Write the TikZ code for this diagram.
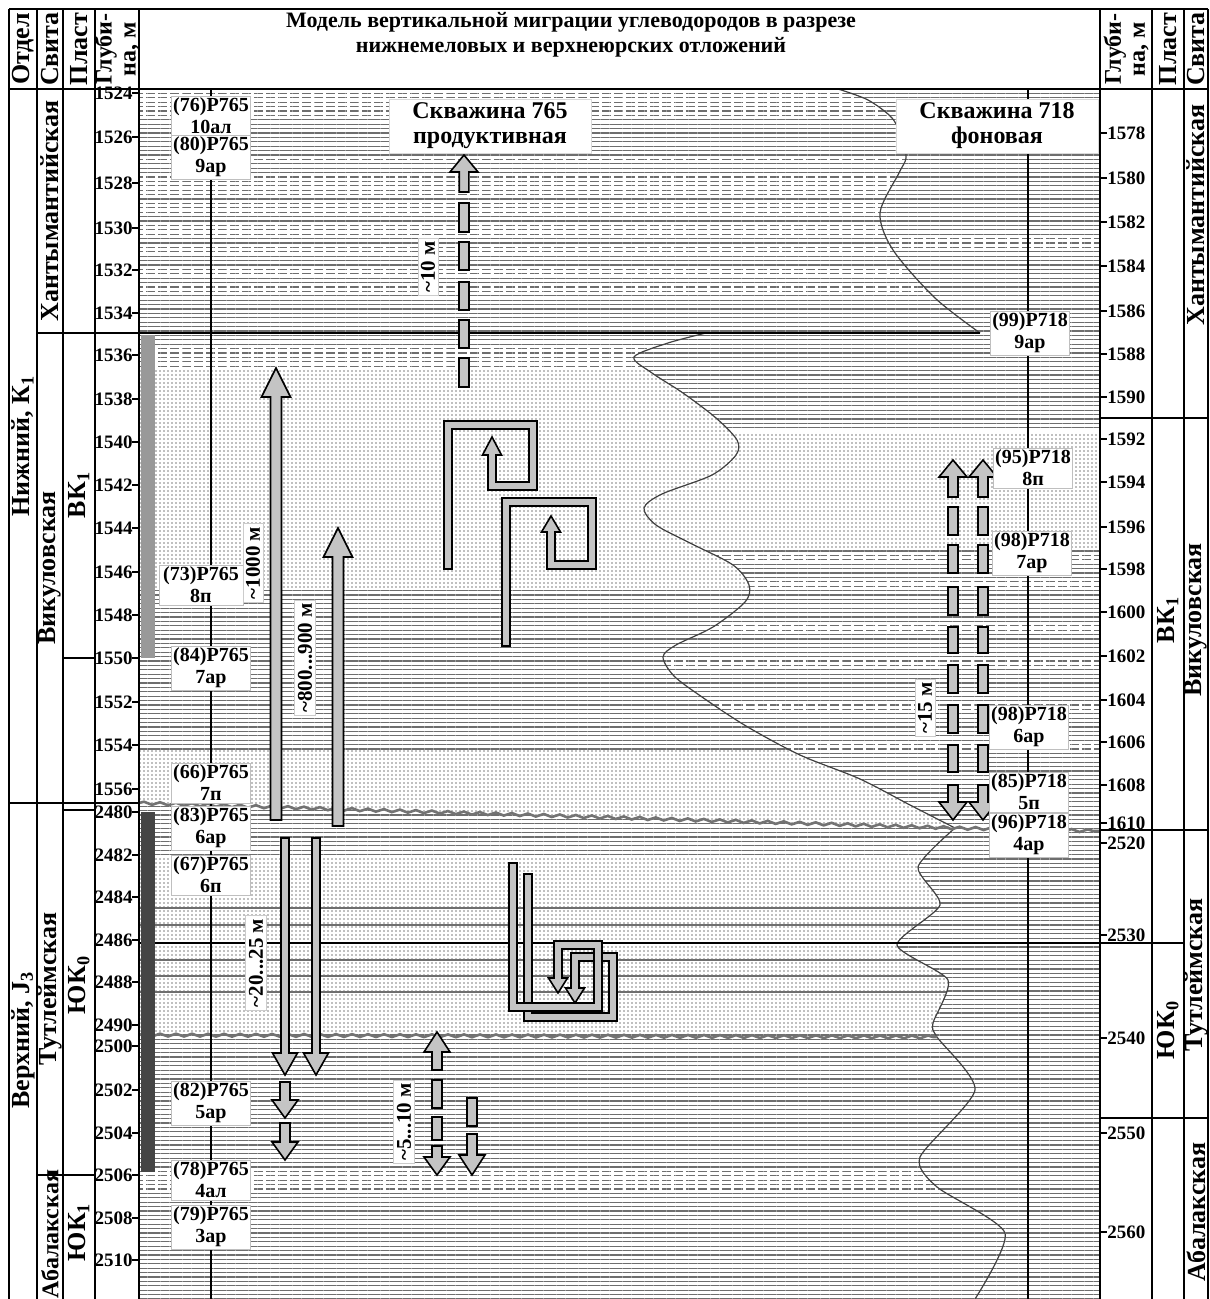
\documentclass[tikz,border=0pt]{standalone}
\usepackage{fontspec}
\setmainfont{Liberation Serif}
\usetikzlibrary{patterns.meta,decorations.pathmorphing}
\definecolor{arrgray}{HTML}{C4C4C4}
\definecolor{lingray}{HTML}{6E6E6E}
\newcommand{\myUpArr}[6]{%
  \filldraw[arrowsty] ({#1-#4},{#2}) -- ({#1-#4},{#3+#6}) -- ({#1-#5},{#3+#6}) -- ({#1},{#3}) -- ({#1+#5},{#3+#6}) -- ({#1+#4},{#3+#6}) -- ({#1+#4},{#2}) -- cycle;}
\newcommand{\myDnArr}[6]{%
  \filldraw[arrowsty] ({#1-#4},{#2}) -- ({#1-#4},{#3-#6}) -- ({#1-#5},{#3-#6}) -- ({#1},{#3}) -- ({#1+#5},{#3-#6}) -- ({#1+#4},{#3-#6}) -- ({#1+#4},{#2}) -- cycle;}
\newcommand{\myDash}[4]{%
  \filldraw[arrowsty] ({#1-#4},{#2}) rectangle ({#1+#4},{#3});}
\newcommand{\myPipe}[1]{%
  \draw[line width=5pt,line cap=rect,line join=miter,black] #1;
  \draw[line width=3.4pt,line cap=rect,line join=miter,arrgray] #1;}
\newcommand{\myHeadUp}[3]{%
  \filldraw[arrowsty] ({#1-3.2},{#2}) -- ({#1-9.5},{#2}) -- ({#1},{#3}) -- ({#1+9.5},{#2}) -- ({#1+3.2},{#2});}
\newcommand{\myHeadDn}[3]{%
  \filldraw[arrowsty] ({#1-3.2},{#2}) -- ({#1-9.5},{#2}) -- ({#1},{#3}) -- ({#1+9.5},{#2}) -- ({#1+3.2},{#2});}
\begin{document}
\begin{tikzpicture}[x=0.5pt,y=-0.5pt,
  litlin/.style={pattern={Lines[angle=0,distance=2.2pt,line width=0.65pt]},pattern color=lingray},
  litdot/.style={pattern={Dots[distance=2pt,radius=0.4pt]},pattern color=black!50},
  litdsh/.style={pattern={Lines[angle=90,distance=6pt,line width=1.5pt]},pattern color=white},
  arrowsty/.style={fill=arrgray,draw=black,line width=0.8pt,line join=miter},
  curvesty/.style={draw=black!75,line width=0.6pt},
  wavy/.style={draw=black!55,line width=1.3pt,decorate,decoration={snake,amplitude=0.7pt,segment length=8pt}},
  frame/.style={line width=0.9pt},
  lbl/.style={font=\bfseries\fontsize{10}{11}\selectfont,fill=white,draw=black!25,line width=0.4pt,align=center,inner sep=1pt,minimum width=39pt},
  dep/.style={font=\bfseries\fontsize{9.5}{10}\selectfont,inner sep=0pt},
  colt/.style={font=\bfseries\fontsize{13}{13}\selectfont,rotate=90,inner sep=0pt,align=center},
  rotl/.style={font=\bfseries\fontsize{10.5}{11}\selectfont,rotate=90,fill=white,draw=black!20,line width=0.4pt,inner sep=1.5pt},
  wellt/.style={font=\bfseries\fontsize{12}{12.5}\selectfont,fill=white,draw=black!15,align=center,inner sep=2pt,minimum width=101pt,minimum height=26pt}
]
\useasboundingbox (0,0) rectangle (1209,1299);
\fill[white] (0,0) rectangle (1209,1299);

% ---------- lithology base ----------
\fill[litlin] (139,89) rectangle (1100,1299);
% top zone, well 718
\fill[litdsh] (139,239) rectangle (1100,251);
% top zone, well 765
\begin{scope}
\clip (139,89) -- plot[smooth] coordinates {(838,89) (868,100) (892,118) (903,140) (906,158) (899,173) (880,213) (893,250) (935,298) (980,333)} -- (139,333) -- cycle;
\fill[white] (139,89) rectangle (1000,333);
\fill[litlin] (139,89) rectangle (1000,333);
\foreach \a/\b in {91/117,157/162,176/196,204/214,226/236,247/256,268/278,284/292}
  \fill[litdsh] (139,\a) rectangle (1000,\b);
\end{scope}
% Vikulov zone, well 718
\fill[white] (139,432) rectangle (1100,550);
\fill[litdot] (139,432) rectangle (1100,550);
\foreach \a/\b in {552/562,580/588,625/632,659/665,702/709,744/751}
  \fill[litdsh] (139,\a) rectangle (1100,\b);
% Vikulov zone, well 765
\begin{scope}
\clip (139,333) -- plot[smooth] coordinates {(706,333) (668,343) (634,357) (652,373) (683,393) (716,418) (737,440) (736,455) (712,475) (662,494) (644,508) (656,525) (690,543) (733,565) (749,585) (745,602) (713,627) (676,645) (663,657) (674,676) (702,697) (746,726) (800,755) (860,779) (910,805) (955,828)} -- (139,803) -- cycle;
\fill[white] (139,333) rectangle (1000,840);
\fill[litlin] (139,333) rectangle (1000,840);
\fill[litdsh] (139,347) rectangle (1000,368);
\fill[white] (139,370) rectangle (1000,587);
\fill[litdot] (139,370) rectangle (1000,587);
\fill[white] (139,750) rectangle (1000,840);
\fill[litdot] (139,750) rectangle (1000,840);
\end{scope}
% lower zone, well 765
\begin{scope}
\clip (139,803) -- plot[smooth,tension=0.4] coordinates {(955,828) (918,867) (940,905) (897,945) (948,980) (933,1023) (937,1037) (975,1090) (920,1157) (937,1187) (1005,1233) (975,1299)} -- (139,1299) -- cycle;
\fill[white] (139,803) rectangle (1050,1299);
\fill[litlin] (139,803) rectangle (1050,1299);
\fill[white] (139,857) rectangle (1050,1033);
\fill[litdot] (139,857) rectangle (1050,1033);
\foreach \yy in {908,925,960,976,992}
  \draw[lingray,line width=0.6pt] (139,\yy) -- (1050,\yy);
\fill[litdsh] (139,1170) rectangle (1050,1190);
\end{scope}

% ---------- correlation curves and boundaries ----------
\draw[curvesty] plot[smooth] coordinates {(838,89) (868,100) (892,118) (903,140) (906,158) (899,173) (880,213) (893,250) (935,298) (980,333)};
\draw[curvesty] plot[smooth] coordinates {(706,333) (668,343) (634,357) (652,373) (683,393) (716,418) (737,440) (736,455) (712,475) (662,494) (644,508) (656,525) (690,543) (733,565) (749,585) (745,602) (713,627) (676,645) (663,657) (674,676) (702,697) (746,726) (800,755) (860,779) (910,805) (955,828)};
\draw[curvesty] plot[smooth,tension=0.4] coordinates {(955,828) (918,867) (940,905) (897,945) (948,980) (933,1023) (937,1037) (975,1090) (920,1157) (937,1187) (1005,1233) (975,1299)};
\draw[line width=0.9pt] (139,333) -- (980,333);
\draw[line width=0.9pt] (139,943) -- (1100,943);
\draw[wavy] (139,803) -- (955,828) -- (1100,831);
\draw[wavy] (139,1035) -- (937,1037);

% wells
\draw[line width=0.8pt] (211,89) -- (211,1299);
\draw[line width=0.8pt] (1028,89) -- (1028,1299);

% ---------- migration arrows ----------
\myUpArr{276}{820}{368}{5.5}{14.5}{29}
\myUpArr{338}{826}{528}{5.5}{14.5}{29}
\myDnArr{285}{838}{1075}{4}{12.5}{22}
\myDnArr{316}{838}{1075}{4}{12.5}{22}
\myDnArr{285}{1082}{1118}{5}{13}{18}
\myDnArr{285}{1123}{1160}{5}{13}{18}
% dashed arrow, top
\myUpArr{464}{192}{155}{4.8}{14}{17}
\foreach \a/\b in {203/232,242/270,282/310,320/348,358/387} {\myDash{464}{\a}{\b}{4.8}}
% dashed arrows, bottom
\myUpArr{437}{1070}{1032}{5}{13}{20}
\foreach \a/\b in {1080/1108,1117/1140} {\myDash{437}{\a}{\b}{5}}
\myDnArr{437}{1146}{1175}{5}{13}{18}
\myDash{472}{1098}{1126}{5}
\myDnArr{472}{1134}{1175}{5}{13}{20}
% dashed arrows, right
\foreach \xx in {953,983}{
  \myUpArr{\xx}{497}{460}{5}{14}{17}
  \foreach \a/\b in {507/535,545/573,587/615,627/653,665/693,705/733,745/772} {\myDash{\xx}{\a}{\b}{5}}
  \myDnArr{\xx}{785}{820}{5}{14}{18}
}
% spirals
\myPipe{(448,565) -- (448,425) -- (533,425) -- (533,486) -- (492,486) -- (492,455)}
\myHeadUp{492}{455}{437}
\myPipe{(506,642) -- (506,502) -- (592,502) -- (592,565) -- (551,565) -- (551,532)}
\myHeadUp{551}{532}{516}
\myPipe{(528,878) -- (528,1017) -- (613,1017) -- (613,957) -- (575,957) -- (575,988)}
\myHeadDn{575}{988}{1003}
\myPipe{(513,867) -- (513,1007) -- (598,1007) -- (598,945) -- (558,945) -- (558,978)}
\myHeadDn{558}{978}{993}

% ---------- sample boxes ----------
\node[lbl] (b76) at (211,116) {(76)Р765\\10ал};
\node[lbl] (b80) at (211,157) {(80)Р765\\9ар};
\node[lbl,minimum width=42pt] (b73) at (201,585) {(73)Р765\\8п};
\node[lbl] (b84) at (211,668) {(84)Р765\\7ар};
\node[lbl] (b66) at (211,783) {(66)Р765\\7п};
\node[lbl] (b83) at (211,828) {(83)Р765\\6ар};
\node[lbl] (b67) at (211,875) {(67)Р765\\6п};
\node[lbl] (b82) at (211,1103) {(82)Р765\\5ар};
\node[lbl] (b78) at (211,1180) {(78)Р765\\4ал};
\node[lbl] (b79) at (211,1227) {(79)Р765\\3ар};
\node[lbl] (c99) at (1030,333) {(99)Р718\\9ар};
\node[lbl] (c95) at (1033,468) {(95)Р718\\8п};
\node[lbl] (c98a) at (1032,553) {(98)Р718\\7ар};
\node[lbl] (c98b) at (1029,727) {(98)Р718\\6ар};
\node[lbl] (c85) at (1029,792) {(85)Р718\\5п};
\node[lbl] (c96) at (1029,835) {(96)Р718\\4ар};
\node[wellt] (w765) at (490,126) {Скважина 765\\продуктивная};
\node[wellt] (w718) at (997,126) {Скважина 718\\фоновая};

% distance labels
\node[rotl] (m10) at (428,267) {\textasciitilde10 м};
\node[rotl] (m1000) at (253,563) {\textasciitilde1000 м};
\node[rotl] (m800) at (305,658) {\textasciitilde800...900 м};
\node[rotl] (m20) at (256,963) {\textasciitilde20...25 м};
\node[rotl] (m5) at (404,1122) {\textasciitilde5...10 м};
\node[rotl] (m15) at (925,708) {\textasciitilde15 м};

% ---------- frame and columns ----------
\fill[white] (0,0) rectangle (1209,88);
\fill[white] (0,88) rectangle (138,1299);
\fill[white] (1101,88) rectangle (1209,1299);
\fill[black!40] (141,335) rectangle (155,658);
\fill[black!73] (141,812) rectangle (155,1172);
\draw[frame] (9,9) -- (1208,9);
\draw[frame] (9,89) -- (1208,89);
\foreach \xx in {9,37,63,95,139,1100,1152,1184,1208}
  \draw[frame] (\xx,9) -- (\xx,1299);
\draw[frame] (37,333) -- (139,333);
\draw[frame] (9,803) -- (139,803);
\draw[frame] (63,810) -- (95,810);
\draw[frame] (63,658) -- (95,658);
\draw[frame] (37,1175) -- (95,1175);
\draw[frame] (1100,418) -- (1208,418);
\draw[frame] (1100,830) -- (1208,830);
\draw[frame] (1100,943) -- (1184,943);
\draw[frame] (1100,1118) -- (1208,1118);

% title
\node[font=\bfseries\fontsize{11}{12.5}\selectfont,align=center] (title) at (571,35) {Модель вертикальной миграции углеводородов в разрезе\\нижнемеловых и верхнеюрских отложений};

% headers
\node[colt] (h1) at (23,49) {Отдел};
\node[colt] (h2) at (50,49) {Свита};
\node[colt] (h3) at (79,49) {Пласт};
\node[colt,font=\bfseries\fontsize{12}{12}\selectfont] (h4) at (117,49) {Глуби-\\на, м};
\node[colt,font=\bfseries\fontsize{12}{12}\selectfont] (h5) at (1126,49) {Глуби-\\на, м};
\node[colt] (h6) at (1168,49) {Пласт};
\node[colt] (h7) at (1196,49) {Свита};

% column texts
\node[colt] (o1) at (23,446) {Нижний, К\textsubscript{1}};
\node[colt] (o2) at (23,1040) {Верхний, J\textsubscript{3}};
\node[colt] (s1) at (50,211) {Хантымантийская};
\node[colt] (s2) at (50,568) {Викуловская};
\node[colt] (s3) at (50,989) {Тутлеймская};
\node[colt,font=\bfseries\fontsize{12}{12}\selectfont] (s4) at (50,1234) {Абалакская};
\node[colt] (p1) at (79,495) {ВК\textsubscript{1}};
\node[colt] (p2) at (79,985) {ЮК\textsubscript{0}};
\node[colt] (p3) at (79,1232) {ЮК\textsubscript{1}};
\node[colt] (s5) at (1196,215) {Хантымантийская};
\node[colt] (s6) at (1196,620) {Викуловская};
\node[colt] (s7) at (1196,975) {Тутлеймская};
\node[colt] (s8) at (1196,1212) {Абалакская};
\node[colt] (p4) at (1168,620) {ВК\textsubscript{1}};
\node[colt] (p5) at (1168,1030) {ЮК\textsubscript{0}};

% depth scales
\foreach \d/\y in {1524/93,1526/137,1528/183,1530/228,1532/270,1534/313,1536/355,1538/399,1540/442,1542/485,1544/528,1546/572,1548/615,1550/658,1552/702,1554/745,1556/789,2480/812,2482/855,2484/897,2486/940,2488/982,2490/1025,2500/1046,2502/1090,2504/1133,2506/1175,2508/1218,2510/1260}{
  \draw[frame] (132,\y) -- (139,\y);
  \node[dep,anchor=east] (L\d) at (133,\y) {\d};
}
\foreach \d/\y in {1578/133,1580/178,1582/222,1584/266,1586/311,1588/354,1590/397,1592/439,1594/482,1596/527,1598/569,1600/612,1602/656,1604/700,1606/742,1608/785,1610/823,2520/843,2530/935,2540/1038,2550/1133,2560/1232}{
  \draw[frame] (1100,\y) -- (1107,\y);
  \node[dep,anchor=west] (R\d) at (1107,\y) {\d};
}
\end{tikzpicture}
\end{document}
